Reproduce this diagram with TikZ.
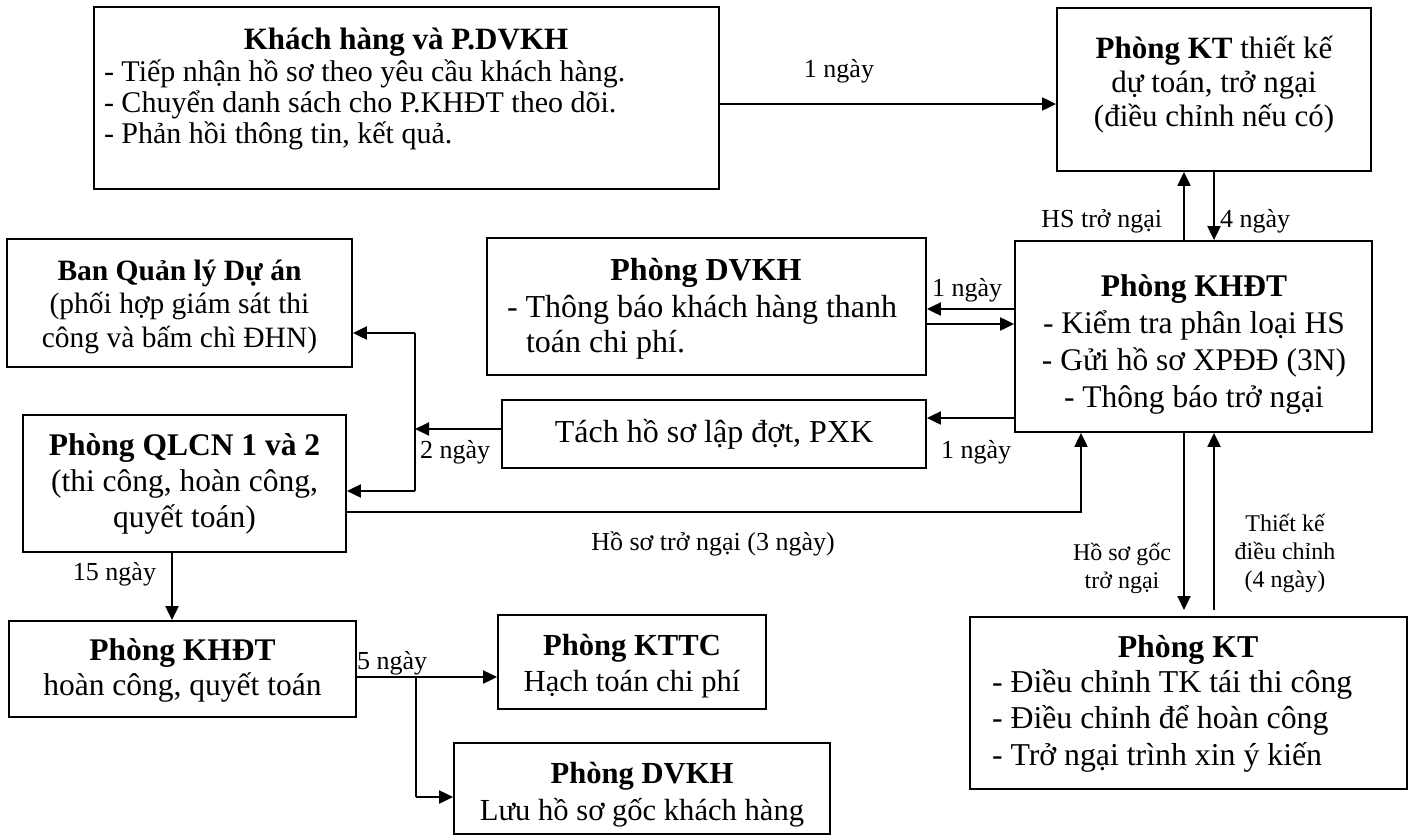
\documentclass[tikz,border=0pt]{standalone}
\usepackage{fontspec}
\setmainfont{Liberation Serif}
\usetikzlibrary{arrows.meta}
\newcommand\mybox[5]{\node[bx, minimum width={(#4)-(#2)}, minimum height={(#5)-(#3)}] (#1) at ({((#2)+(#4))/2},{((#3)+(#5))/2}) {};}
\newcommand\fs[2]{\fontsize{#1}{#2}\selectfont}
\tikzset{
  bx/.style={draw, line width=1.8pt, inner sep=0pt, rectangle},
  arr/.style={line width=2pt, -{Triangle[length=14pt,width=13pt]}},
  ln/.style={line width=2pt},
  tx/.style={inner sep=0pt, outer sep=0pt},
  lbl/.style={tx, font=\fs{26}{30}},
  lbs/.style={tx, align=center, font=\fs{24}{27.7}},
}
\begin{document}
\begin{tikzpicture}[x=1pt, y=-1pt]
\useasboundingbox (0,0) rectangle (1416,836);
\fill[white] (0,0) rectangle (1416,836);
% boxes
\mybox{kh}{94}{7}{719}{189}
\mybox{ktop}{1057}{8}{1371}{171}
\mybox{khdt}{1015}{241}{1372}{432}
\mybox{dvkh}{487}{238}{926}{375}
\mybox{tach}{502}{400}{926}{468}
\mybox{bql}{7}{239}{352}{367}
\mybox{qlcn}{23}{415}{346}{552}
\mybox{khdtb}{9}{621}{356}{717}
\mybox{kttc}{498}{615}{766}{709}
\mybox{dvkhb}{454}{743}{830}{834}
\mybox{ktb}{970}{617}{1407}{789}
% box texts (multi-line nodes: base = last line baseline)
\node[tx, anchor=base, font=\fs{31}{31}\bfseries] (khT) at (406,49) {Khách hàng và P.DVKH};
\node[tx, anchor=base west, align=left, font=\fs{30}{30.7}] (khB) at (104,143) {- Tiếp nhận hồ sơ theo yêu cầu khách hàng.\\- Chuyển danh sách cho P.KHĐT theo dõi.\\- Phản hồi thông tin, kết quả.};
\node[tx, anchor=base, align=center, font=\fs{31}{34}] (ktopT) at (1214,126) {\textbf{Phòng KT} thiết kế\\dự toán, trở ngại\\(điều chỉnh nếu có)};
\node[tx, anchor=base, align=center, font=\fs{31.5}{36.7}] (khdtT) at (1194,407) {\textbf{Phòng KHĐT}\\- Kiểm tra phân loại HS\\- Gửi hồ sơ XPĐĐ (3N)\\- Thông báo trở ngại};
\node[tx, anchor=base, font=\fs{32}{36}\bfseries] (dvkhT) at (706,280) {Phòng DVKH};
\node[tx, anchor=base west, align=left, font=\fs{32}{35}] (dvkhB) at (507,352) {- Thông báo khách hàng thanh\\\hspace*{19pt}toán chi phí.};
\node[tx, anchor=base, font=\fs{32}{36}] (tachT) at (714,442) {Tách hồ sơ lập đợt, PXK};
\node[tx, anchor=base, align=center, font=\fs{29.5}{33.5}] (bqlT) at (179.5,347) {\textbf{Ban Quản lý Dự án}\\(phối hợp giám sát thi\\công và bấm chì ĐHN)};
\node[tx, anchor=base, align=center, font=\fs{31.5}{36}] (qlcnT) at (184.5,527) {\textbf{Phòng QLCN 1 và 2}\\(thi công, hoàn công,\\quyết toán)};
\node[tx, anchor=base, align=center, font=\fs{31.5}{35}] (khdtbT) at (182.5,695) {\textbf{Phòng KHĐT}\\hoàn công, quyết toán};
\node[tx, anchor=base, align=center, font=\fs{30.6}{36}] (kttcT) at (632,691) {\textbf{Phòng KTTC}\\Hạch toán chi phí};
\node[tx, anchor=base, align=center, font=\fs{30.6}{37}] (dvkhbT) at (642,820) {\textbf{Phòng DVKH}\\Lưu hồ sơ gốc khách hàng};
\node[tx, anchor=base, font=\fs{31.8}{36}\bfseries] (ktbT) at (1188,657) {Phòng KT};
\node[tx, anchor=base west, align=left, font=\fs{31.8}{36.5}] (ktbB) at (992,765) {- Điều chỉnh TK tái thi công\\- Điều chỉnh để hoàn công\\- Trở ngại trình xin ý kiến};
% helper coordinates
\coordinate (L104) at (0,104);
\coordinate (L309) at (0,309);
\coordinate (L324) at (0,324);
\coordinate (L418) at (0,418);
\coordinate (L429) at (0,429);
\coordinate (L512) at (0,512);
\coordinate (L677) at (0,677);
\coordinate (X1184) at (1184,0);
\coordinate (X1214) at (1214,0);
\coordinate (X172) at (172,0);
\coordinate (jt) at (415,333);
\coordinate (jm) at (415,429);
\coordinate (jb) at (415,491);
\coordinate (kq) at (1081,512);
\coordinate (d1) at (1184,610);
\coordinate (u1) at (1214,610);
\coordinate (br) at (416,677);
\coordinate (bd) at (416,797);
% connectors
\draw[arr] (kh.east |- L104) -- (ktop.west |- L104);
\draw[arr] (khdt.north -| X1184) -- (ktop.south -| X1184);
\draw[arr] (ktop.south -| X1214) -- (khdt.north -| X1214);
\draw[arr] (khdt.west |- L309) -- (dvkh.east |- L309);
\draw[arr] (dvkh.east |- L324) -- (khdt.west |- L324);
\draw[arr] (khdt.west |- L418) -- (tach.east |- L418);
\draw[arr] (tach.west |- L429) -- (jm);
\draw[ln] (jt) -- (jb);
\draw[arr] (jt) -- (bql.east |- jt);
\draw[arr] (jb) -- (qlcn.east |- jb);
\draw[arr] (qlcn.east |- L512) -- (kq) -- (khdt.south -| kq);
\draw[arr] (khdt.south -| d1) -- (d1);
\draw[arr] (u1) -- (khdt.south -| u1);
\draw[arr] (qlcn.south -| X172) -- (khdtb.north -| X172);
\draw[arr] (khdtb.east |- L677) -- (kttc.west |- L677);
\draw[ln] (br) -- (bd);
\draw[arr] (bd) -- (dvkhb.west |- bd);
% labels
\node[lbl, anchor=base] (l1) at (839,77) {1 ngày};
\node[lbl, anchor=base east] (l2) at (1162,227) {HS trở ngại};
\node[lbl, anchor=base west] (l3) at (1220,227) {4 ngày};
\node[lbl, anchor=base west] (l4) at (932,296) {1 ngày};
\node[lbl, anchor=base west] (l5) at (941,458) {1 ngày};
\node[lbl, anchor=base west] (l6) at (420,458) {2 ngày};
\node[lbl, anchor=base] (l7) at (713,550) {Hồ sơ trở ngại (3 ngày)};
\node[lbl, anchor=base east] (l8) at (156,580) {15 ngày};
\node[lbl, anchor=base west] (l9) at (357,669) {5 ngày};
\node[lbs, anchor=base] (l10) at (1122,588) {Hồ sơ gốc\\trở ngại};
\node[lbs, anchor=base] (l11) at (1285,587) {Thiết kế\\điều chỉnh\\(4 ngày)};
\end{tikzpicture}
\end{document}
